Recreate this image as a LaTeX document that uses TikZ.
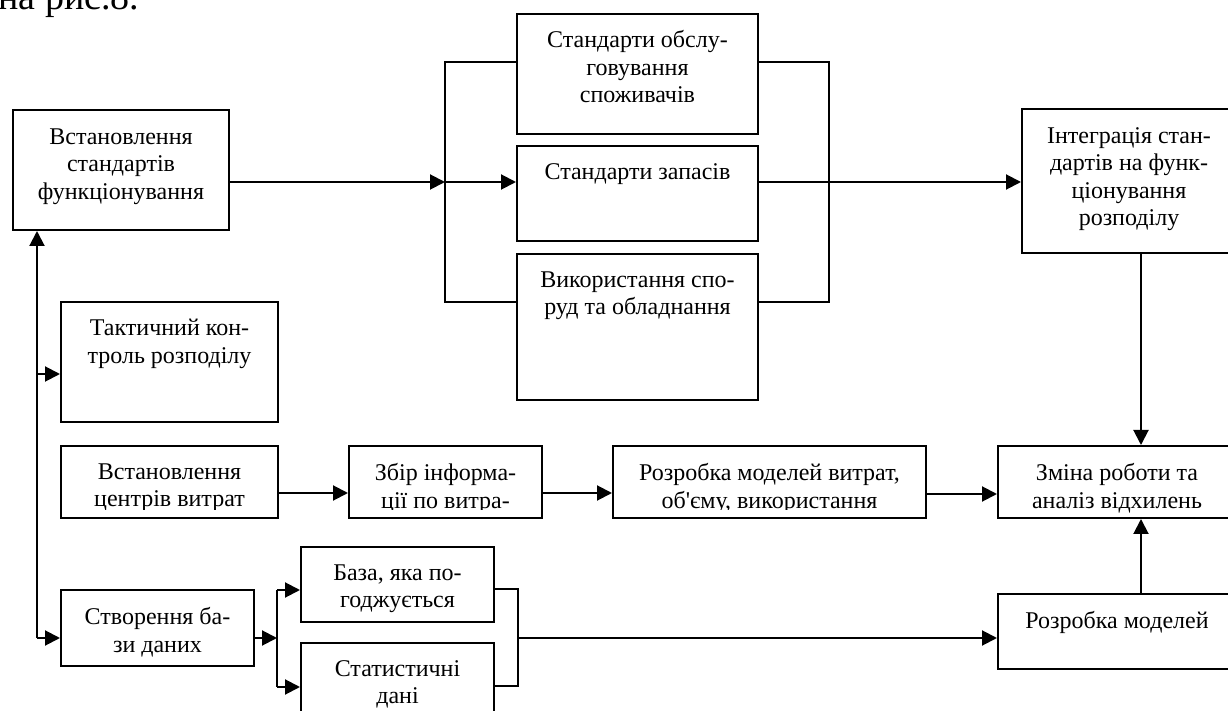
\documentclass[tikz,border=0pt]{standalone}
\usepackage{fontspec}
\setmainfont{Liberation Serif}
\usetikzlibrary{arrows.meta}

\tikzset{
  box/.style={draw, line width=1pt, inner sep=0pt},
  txt/.style={anchor=north, align=center, inner sep=0pt, font=\fontsize{12}{13.75}\selectfont},
  ln/.style={line width=1pt},
  arr/.style={line width=1pt, -{Triangle[length=7.5pt,width=7.5pt]}},
}

\begin{document}
\begin{tikzpicture}[x=0.5pt,y=-0.5pt]
\clip (0,0) rectangle (1228,711);

% Text above the scheme (cut by the page)
\node[anchor=base west, inner sep=0pt, font=\fontsize{19}{21}\selectfont] (ref) at (-2,10) {на рис.8.};

%-------------------------------------------- Upper row
\node[box, minimum width=108pt, minimum height=60pt] (st) at (121,170) {};
\node[txt] (st-t) at ([yshift=-9.5pt]st.north) {Встановлення\\стандартів\\функціонування};

\node[box, minimum width=120.5pt, minimum height=60pt] (so) at (637.5,74) {};
\node[txt] (so-t) at ([yshift=-8.5pt]so.north) {Стандарти обслу-\\говування\\споживачів};

\node[box, minimum width=120.5pt, minimum height=47.5pt] (zp) at (637.5,193.5) {};
\node[txt] (zp-t) at ([yshift=-9pt]zp.north) {Стандарти запасів};

\node[box, minimum width=120.5pt, minimum height=73pt] (sp) at (637.5,327) {};
\node[txt] (sp-t) at ([yshift=-9pt]sp.north) {Використання спо-\\руд та обладнання};

\node[box, minimum width=107pt, minimum height=72pt] (ig) at (1129,181) {};
\node[txt] (ig-t) at ([yshift=-9.5pt]ig.north) {Інтеграція стан-\\дартів на функ-\\ціонування\\розподілу};

% Brackets of the three standards
\coordinate (jt) at (445,62);
\coordinate (jm) at (445,182);
\coordinate (jb) at (445,302);
\coordinate (kt) at (829,62);
\coordinate (km) at (829,182);
\coordinate (kb) at (829,302);

\draw[arr] ([yshift=-6pt]st.east) -- (jm);
\draw[arr] (jm) -- (jm -| zp.west);
\draw[ln] ([yshift=6pt]so.west) -- (jt) -- (jb) -- ([yshift=12.5pt]sp.west);
\draw[ln] ([yshift=6pt]so.east) -- (kt) -- (kb) -- ([yshift=12.5pt]sp.east);
\draw[arr] (zp.east |- km) -- (ig.west |- km);

%-------------------------------------------- Left column
\node[box, minimum width=108.5pt, minimum height=60pt] (tk) at (169.5,362) {};
\node[txt] (tk-t) at ([yshift=-9pt]tk.north) {Тактичний кон-\\троль розподілу};

\node[box, minimum width=108.5pt, minimum height=36pt] (cv) at (169.5,482) {};
\begin{scope}
  \clip (cv.north west) rectangle ([yshift=4.5pt]cv.south east);
  \node[txt] (cv-t) at ([yshift=-9pt]cv.north) {Встановлення\\центрів витрат};
\end{scope}

\node[box, minimum width=96.5pt, minimum height=38pt] (bd) at (157.5,628) {};
\node[txt] (bd-t) at ([yshift=-9pt]bd.north) {Створення ба-\\зи даних};

\coordinate (v) at (37,638);
\coordinate (vf) at (37,374);
\draw[arr] (v) -- (v |- st.south);
\draw[arr] (vf) -- (vf -| tk.west);
\draw[arr] (v) -- (v -| bd.west);

%-------------------------------------------- Cost row
\node[box, minimum width=96.5pt, minimum height=36pt] (zb) at (445.5,482) {};
\begin{scope}
  \clip (zb.north west) rectangle ([yshift=4.5pt]zb.south east);
  \node[txt] (zb-t) at ([yshift=-9pt]zb.north) {Збір інформа-\\ції по витра-};
\end{scope}

\node[box, minimum width=156.5pt, minimum height=36pt] (rv) at (769.5,482) {};
\begin{scope}
  \clip (rv.north west) rectangle ([yshift=4.5pt]rv.south east);
  \node[txt] (rv-t) at ([yshift=-9pt]rv.north) {Розробка моделей витрат,\\об\textquotesingle єму, використання};
\end{scope}

\node[box, minimum width=119pt, minimum height=36pt] (zm) at (1117,482) {};
\node[txt] (zm-t) at ([yshift=-9pt]zm.north) {Зміна роботи та\\аналіз відхилень};

\draw[arr] ([yshift=-5.5pt]cv.east) -- ([yshift=-5.5pt]zb.west);
\draw[arr] ([yshift=-5.5pt]zb.east) -- ([yshift=-5.5pt]rv.west);
\draw[arr] ([yshift=-6pt]rv.east) -- ([yshift=-6pt]zm.west);
\draw[arr] ([xshift=6pt]ig.south) -- ([xshift=12pt]zm.north);

%-------------------------------------------- Data base row
\node[box, minimum width=96.5pt, minimum height=37.5pt] (bp) at (397.5,584.5) {};
\node[txt] (bp-t) at ([yshift=-9pt]bp.north) {База, яка по-\\годжується};

\node[box, minimum width=96.5pt, minimum height=48.5pt] (sd) at (397.5,691.5) {};
\node[txt] (sd-t) at ([yshift=-9pt]sd.north) {Статистичні\\дані};

\node[box, minimum width=119pt, minimum height=37.5pt] (rm) at (1117,631.5) {};
\node[txt] (rm-t) at ([yshift=-9pt]rm.north) {Розробка моделей};

\coordinate (m) at (277,638);
\coordinate (mt) at (277,590);
\coordinate (mb) at (277,687);
\coordinate (nt) at (518,589);
\coordinate (nm) at (518,638);
\coordinate (nb) at (518,686);

\draw[arr] ([yshift=-5pt]bd.east) -- (m);
\draw[ln] (mt) -- (mb);
\draw[arr] (mt) -- (mt -| bp.west);
\draw[arr] (mb) -- (mb -| sd.west);
\draw[ln] (bp.east |- nt) -- (nt) -- (nb) -- (sd.east |- nb);
\draw[arr] (nm) -- (nm -| rm.west);
\draw[arr] ([xshift=12pt]rm.north) -- ([xshift=12pt]zm.south);

\end{tikzpicture}
\end{document}
